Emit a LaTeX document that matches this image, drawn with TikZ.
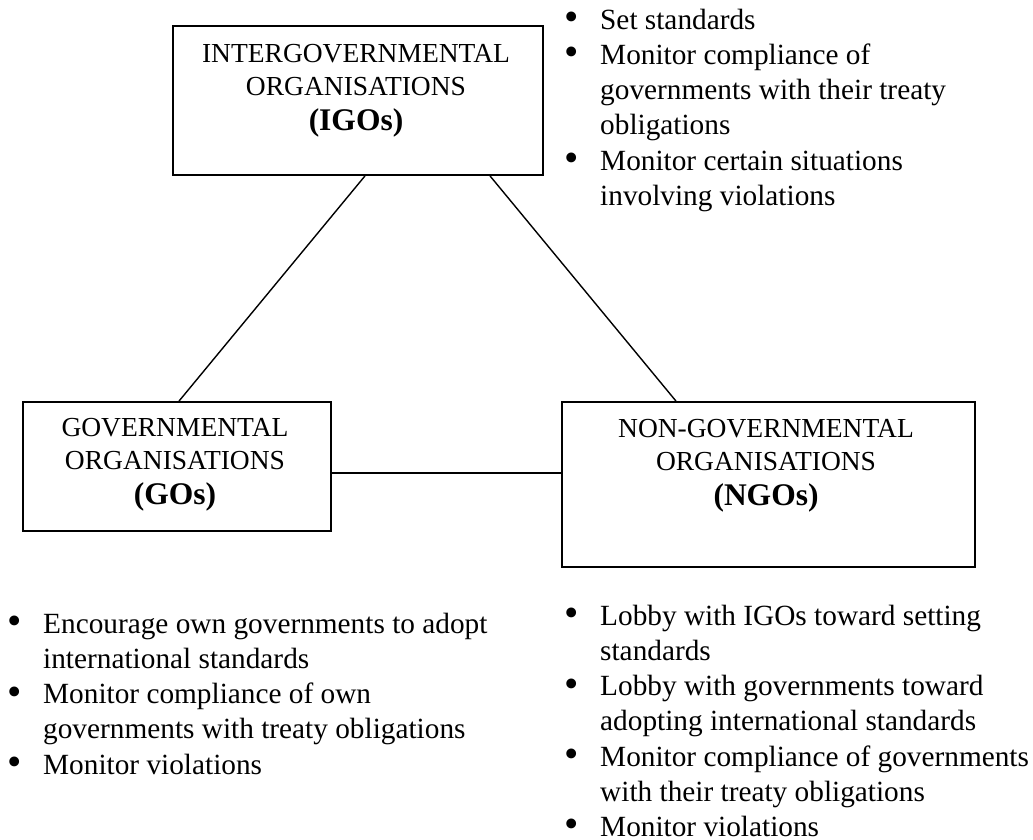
\documentclass[tikz,border=0pt]{standalone}
\usepackage{fontspec}
\usepackage{graphicx}
\setmainfont{Liberation Serif}
\newcommand\bitem{\makebox[36pt][l]{\raisebox{-1.5pt}{\scalebox{1.4}{\textbullet}}}}
\newcommand\bcont{\hspace*{36pt}}
\begin{document}
\begin{tikzpicture}[x=1pt,y=-1pt,
  box/.style={draw, line width=1.8pt, inner sep=0pt},
  boxtext/.style={align=center, inner sep=0pt, anchor=north, font=\fontsize{27.5}{33}\selectfont},
  link/.style={line width=1.4pt},
  blist/.style={align=left, inner sep=0pt, anchor=north west, font=\fontsize{29.3}{35.2}\selectfont}]
\useasboundingbox (0,0) rectangle (1033,840);
% boxes
\node[box, minimum width=370pt, minimum height=149pt] (igo) at (358,100.5) {};
\node[box, minimum width=308pt, minimum height=129pt] (go) at (177,466.5) {};
\node[box, minimum width=413pt, minimum height=165pt] (ngo) at (768.5,484.5) {};
% box texts
\node[boxtext] (igot) at (356,38.9) {\strut INTERGOVERNMENTAL\\ORGANISATIONS\\[2pt]{\fontsize{31.5}{33}\selectfont\bfseries (IGOs)}};
\node[boxtext] (got) at (175,412.9) {\strut GOVERNMENTAL\\ORGANISATIONS\\[2pt]{\fontsize{31.5}{33}\selectfont\bfseries (GOs)}};
\node[boxtext] (ngot) at (766,413.9) {\strut NON-GOVERNMENTAL\\ORGANISATIONS\\[2pt]{\fontsize{31.5}{33}\selectfont\bfseries (NGOs)}};
% connectors
\draw[link] ([xshift=7pt]igo.south) -- ([xshift=2pt]go.north);
\draw[link] ([xshift=132pt]igo.south) -- ([xshift=-92.5pt]ngo.north);
\draw[link] ([yshift=-6.5pt]go.east) coordinate (gol) -- (gol -| ngo.west);
% lists
\node[blist] (igol) at (564,4.4) {\strut\bitem Set standards\\
\bitem Monitor compliance of\\
\bcont governments with their treaty\\
\bcont obligations\\
\bitem Monitor certain situations\\
\bcont involving violations};
\node[blist] (gol2) at (7,608.4) {\strut\bitem Encourage own governments to adopt\\
\bcont international standards\\
\bitem Monitor compliance of own\\
\bcont governments with treaty obligations\\
\bitem Monitor violations};
\node[blist] (ngol) at (564,600.4) {\strut\bitem Lobby with IGOs toward setting\\
\bcont standards\\
\bitem Lobby with governments toward\\
\bcont adopting international standards\\
\bitem Monitor compliance of governments\\
\bcont with their treaty obligations\\
\bitem Monitor violations};
\end{tikzpicture}
\end{document}
